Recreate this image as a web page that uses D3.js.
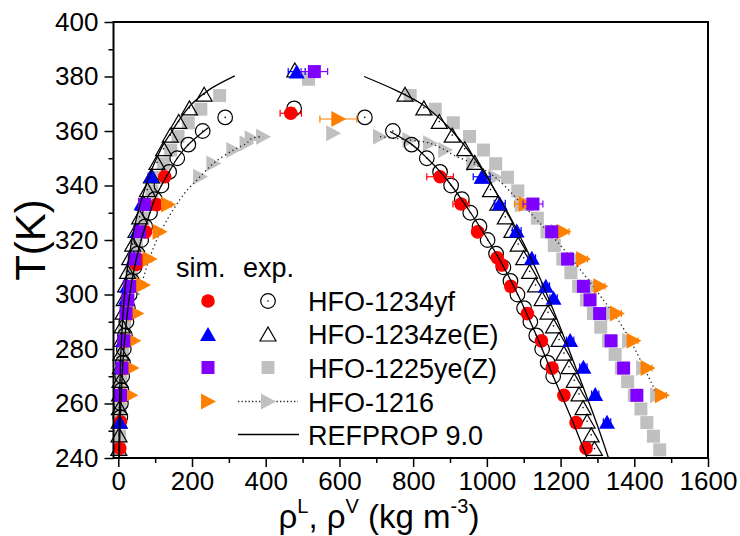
<!DOCTYPE html>
<html><head><meta charset="utf-8">
<script src="https://cdn.jsdelivr.net/npm/d3@7"></script>
<style>
body{margin:0;background:#fff}
svg{display:block}
text{font-family:"Liberation Sans",Arial,Helvetica,sans-serif;fill:#000}
</style>
</head><body>
<svg id="c" width="740" height="536"></svg>
<script>
// ---------------- axis ticks ----------------
const xMajor = [0,200,400,600,800,1000,1200,1400,1600];
const xMinor = [100,300,500,700,900,1100,1300,1500];
const yMajor = [240,260,280,300,320,340,360,380,400];
const yMinor = [250,270,290,310,330,350,370,390];

// ---------------- HFO-1234yf simulation (T [K], rho [kg/m3], error) ----------------
const yfSimT   = [243.6,253.3,263,273,283,293,303,311,313,323,333,343.2, 366.5, 343.2,333.2,323,313.5,310.8,303,293,283,273,263,253,243.6];
const yfSimRho = [4,6,10,14,20,28,38,49,53,74,104,126, 468, 873,930,975,1028,1041,1065,1110,1148,1177,1209,1242,1269];
const yfSimErr = [1,1,2,2,2,3,3,4,4,5,6,8, 29, 36,22,15,10,10,8,8,8,6,6,6,5];

// ---------------- HFO-1234yf experiment ----------------
const yfExpT   = [255,260,265,270,275,280,285,290,295,300,305,310,315,320,325,330,335,340,345,350,355,360,365, 368.3,
                  365,360,355,350,345,340,335,330,325,320,315,310,305,300,295,290,285,280,275,270];
const yfExpRho = [5.5,7,8.5,10.5,12.5,15,18,22,26,31,37,44,52,62,73,86,99,117,138,160,190,229,290, 477,
                  669,745,796,837,873,903,932,955,980,1002,1025,1045,1064,1083,1101,1118,1134,1150,1165,1180];

// ---------------- HFO-1234ze(E) simulation ----------------
const zeSimT   = [253.3,263.5,273.5,283.3,298.8,303.2,313.5,323.5,333.5,343.5, 381.8, 343.2,333.5,323.5,313.5,303.2,298.8,283.3,273.5,263.5,253.3];
const zeSimRho = [4,6,9,13,21,24,42,52,63,89, 484, 986,1035,1081,1122,1160,1181,1226,1262,1294,1326];
const zeSimErr = [1,1,2,2,3,3,4,5,6,8, 23, 23,15,12,10,10,10,10,10,10,10];

// ---------------- HFO-1234ze(E) experiment ----------------
const zeExpT   = [243.5,248.5,253.5,258.5,263.5,268.5,273.5,278.5,283.5,288.5,293.5,298.5,303.5,308.5,313.5,318.5,323.5,328.5,333.5,338.5,343.5,348.5,353.5,358.5,363.5,368.5,373.5, 382.4,
                  373.5,368.5,363.5,358.5,353.5,348.5,343.5,338.5,333.5,328.5,323.5,318.5,313.5,308.5,303.5,298.5,293.5,288.5,283.5,278.5,273.5,268.5,263.5,258.5,253.5,248.5,243.5];
const zeExpRho = [1.5,2,2.5,3,3.5,4.5,5.5,7,8.5,10.5,13,16,20,25,31,39,48,58,69,79,90,105,123,141,164,193,233, 479,
                  778,829,871,906,940,967,990,1010,1030,1050,1068,1085,1100,1116,1132,1150,1166,1181,1196,1209,1223,1237,1250,1261,1272,1283,1292];

// ---------------- HFO-1225ye(Z) simulation ----------------
const yeSimT   = [263,273,283,293,298,303,313,323,333, 381.8, 333.2,323,313,303,298,293,283,273,263];
const yeSimRho = [6,10,15,21,26,31,44,58,71, 532, 1125,1176,1219,1262,1280,1306,1337,1371,1407];
const yeSimErr = [2,2,2,3,3,3,4,5,6, 36, 27,15,12,10,10,10,10,10,10];

// ---------------- HFO-1225ye(Z) experiment ----------------
const yeExpT   = [243,248,253,258,263,268,273,278,283,288,293,298,303,308,313,318,323,328,333,338,343,348,353,358,363,368,373, 379,
                  373,368,363,358,353,348,343,338,333,328,323,318,313,308,303,298,293,288,283,278,273,268,263,258,253,248,243];
const yeExpRho = [2.5,3,4,5,6,7.5,9.5,11.5,14,17,20,24,29,35,41,49,57,67,78,91,106,123,142,162,190,224,275, 516,
                  792,860,909,953,991,1024,1056,1084,1110,1137,1163,1183,1206,1228,1249,1270,1289,1309,1330,1348,1365,1382,1400,1418,1434,1452,1469];

// ---------------- HFO-1216 simulation ----------------
const hfpSimT   = [263,273,283,293,303.5,313,323,333, 364.4, 333.2,323,313,303,293,283,273,263];
const hfpSimRho = [33,36,41,49,67,85,112,135, 597, 1105,1208,1261,1308,1353,1398,1436,1475];
const hfpSimErr = [3,3,4,4,5,6,6,8, 50, 30,15,12,12,12,12,12,12];

// ---------------- HFO-1216 experiment (markers) ----------------
const hfpExpT   = [343.2,348.1,353,355.5,357.3,357.9, 359.2, 357.9,356.7,355.5,353,348,343, 333,323,313,303,293,283,273,263];
const hfpExpRho = [222,258,312,348,362,393, 583, 710,790,846,887,963,1023, 1095,1192,1245,1294,1340,1386,1424,1462];
// HFO-1216 experiment (dotted curves)
const hfpVapLineT   = [300,303,308,313,318,323,328,333,338,343.2,348.1,353,355.5,357.3,357.9];
const hfpVapLineRho = [55,62,72,84,98,115,135,158,185,222,258,312,348,362,393];
const hfpLiqLineT   = [357.9,356.7,355.5,353,351,348,343,336.5,332,327,318,309,300,289.4,279.6,266,263];
const hfpLiqLineRho = [710,790,846,887,912,963,1023,1072,1104,1138,1200,1254,1305,1362,1403,1452,1462];

// ---------------- REFPROP 9.0 ----------------
const rpYfVapT   = [240,250,260,270,280,290,300,310,320,330,335,340,345,350,355,361.2];
const rpYfVapRho = [3,4.5,7,10.5,15,22,31,44,62,86,99,117,138,160,190,244];
const rpYfLiqT   = [240,250,260,270,280,290,300,310,320,330,340,345,350,355,359.8];
const rpYfLiqRho = [1272,1243,1212,1180,1150,1118,1084,1046,1003,956,904,874,838,797,737];
const rpZeVapT   = [240,250,260,270,280,290,300,310,320,330,340,345,350,355,360,365,370,375,380.2];
const rpZeVapRho = [1.5,2.2,3.3,5,7.5,11.5,17,25,37,53,75,88,104,122,146,170,200,245,316];
const rpZeLiqT   = [240,250,260,270,280,290,300,310,320,330,340,350,360,365,370,375,380];
const rpZeLiqRho = [1330,1305,1278,1250,1222,1193,1163,1131,1095,1057,1014,966,906,869,822,752,667];

// ---------------- colours ----------------
const cRed = "#ff0000", cBlue = "#0000ff", cPurple = "#8000ff", cOrange = "#ff8000", cGray = "#c0c0c0";

// ================= drawing =================
const svg = d3.select("#c");
const x = d3.scaleLinear().domain([-13, 1600]).range([113.5, 708]);
const y = d3.scaleLinear().domain([240, 400]).range([458, 22]);

const zip = (T, R, E) => T.map((t, i) => ({T: t, r: R[i], e: E ? E[i] : 0}));

// symbol paths (centred)
const P = {
  triUp: "M0,-7L8,7L-8,7Z",
  triRight: "M8,0L-7,-8L-7,8Z",
  square: "M-6.5,-6.5H6.5V6.5H-6.5Z"
};

const gMarks = svg.append("g");

function errorBars(g, data, color) {
  const eb = g.append("g").attr("stroke", color).attr("stroke-width", 1.2).attr("fill", "none");
  data.forEach(d => {
    const x0 = x(d.r - d.e), x1 = x(d.r + d.e), yy = y(d.T);
    eb.append("line").attr("x1", x0).attr("x2", x1).attr("y1", yy).attr("y2", yy);
    eb.append("line").attr("x1", x0).attr("x2", x0).attr("y1", yy - 3.5).attr("y2", yy + 3.5);
    eb.append("line").attr("x1", x1).attr("x2", x1).attr("y1", yy - 3.5).attr("y2", yy + 3.5);
  });
}

function pathMarks(g, data, path, fill, stroke, sw) {
  g.append("g").selectAll("path").data(data).join("path")
    .attr("d", path)
    .attr("transform", d => `translate(${x(d.r)},${y(d.T)})`)
    .attr("fill", fill).attr("stroke", stroke || "none").attr("stroke-width", sw || 0);
}
function dots(g, data) {
  g.append("g").selectAll("circle").data(data).join("circle")
    .attr("cx", d => x(d.r)).attr("cy", d => y(d.T)).attr("r", 0.8).attr("fill", "#000");
}

// experimental markers
const yeExp = zip(yeExpT, yeExpRho);
pathMarks(gMarks, yeExp, P.square, cGray);
const hfpExp = zip(hfpExpT, hfpExpRho);
pathMarks(gMarks, hfpExp, P.triRight, cGray);

const dotted = d3.line().x(d => x(d.r)).y(d => y(d.T)).curve(d3.curveCatmullRom);
gMarks.append("path").datum(zip(hfpVapLineT, hfpVapLineRho)).attr("d", dotted)
  .attr("fill", "none").attr("stroke", "#222").attr("stroke-width", 1.3).attr("stroke-dasharray", "1.3,3");
gMarks.append("path").datum(zip(hfpLiqLineT, hfpLiqLineRho)).attr("d", dotted)
  .attr("fill", "none").attr("stroke", "#222").attr("stroke-width", 1.3).attr("stroke-dasharray", "1.3,3");

const zeExp = zip(zeExpT, zeExpRho);
pathMarks(gMarks, zeExp, P.triUp, "none", "#000", 1.2);
dots(gMarks, zeExp);
const yfExp = zip(yfExpT, yfExpRho);
gMarks.append("g").selectAll("circle").data(yfExp).join("circle")
  .attr("cx", d => x(d.r)).attr("cy", d => y(d.T)).attr("r", 7.3)
  .attr("fill", "none").attr("stroke", "#000").attr("stroke-width", 1.2);
dots(gMarks, yfExp);

// simulation markers
const yfSim = zip(yfSimT, yfSimRho, yfSimErr);
errorBars(gMarks, yfSim, cRed);
gMarks.append("g").selectAll("circle").data(yfSim).join("circle")
  .attr("cx", d => x(d.r)).attr("cy", d => y(d.T)).attr("r", 6.8).attr("fill", cRed);

const zeSim = zip(zeSimT, zeSimRho, zeSimErr);
errorBars(gMarks, zeSim, cBlue);
pathMarks(gMarks, zeSim, P.triUp, cBlue);

const hfpSim = zip(hfpSimT, hfpSimRho, hfpSimErr);
errorBars(gMarks, hfpSim, cOrange);
pathMarks(gMarks, hfpSim, P.triRight, cOrange);

const yeSim = zip(yeSimT, yeSimRho, yeSimErr);
errorBars(gMarks, yeSim, cPurple);
pathMarks(gMarks, yeSim, P.square, cPurple);

// REFPROP lines
const solid = d3.line().x(d => x(d.r)).y(d => y(d.T)).curve(d3.curveCatmullRom);
[[rpYfVapT, rpYfVapRho], [rpYfLiqT, rpYfLiqRho], [rpZeVapT, rpZeVapRho], [rpZeLiqT, rpZeLiqRho]].forEach(([T, R]) => {
  gMarks.append("path").datum(zip(T, R)).attr("d", solid)
    .attr("fill", "none").attr("stroke", "#000").attr("stroke-width", 1.3);
});

// ---------------- axes ----------------
const fs = 26;
const fmt = d3.format("d");
const xAxisMaj = d3.axisBottom(x).tickValues(xMajor).tickFormat(fmt).tickSize(9).tickSizeOuter(0).tickPadding(5);
const xAxisMin = d3.axisBottom(x).tickValues(xMinor).tickSize(5).tickSizeOuter(0).tickFormat("");
const yAxisMaj = d3.axisLeft(y).tickValues(yMajor).tickFormat(fmt).tickSize(9).tickSizeOuter(0).tickPadding(6);
const yAxisMin = d3.axisLeft(y).tickValues(yMinor).tickSize(5).tickSizeOuter(0).tickFormat("");

function styleAxis(g) {
  g.select(".domain").remove();
  g.selectAll(".tick line").attr("stroke", "#000").attr("stroke-width", 1.5);
  g.selectAll(".tick text").attr("font-size", fs).attr("font-family", "Liberation Sans, Arial, sans-serif").attr("fill", "#000");
}
svg.append("g").attr("transform", "translate(0,458)").call(xAxisMaj).call(styleAxis);
svg.append("g").attr("transform", "translate(0,458)").call(xAxisMin).call(styleAxis);
svg.append("g").attr("transform", "translate(113.5,0)").call(yAxisMaj).call(styleAxis);
svg.append("g").attr("transform", "translate(113.5,0)").call(yAxisMin).call(styleAxis);

// frame
svg.append("rect").attr("x", 113.5).attr("y", 22).attr("width", 594.5).attr("height", 436)
  .attr("fill", "none").attr("stroke", "#000").attr("stroke-width", 2);

// axis titles
svg.append("text").attr("transform", "translate(45,240) rotate(-90)").attr("text-anchor", "middle")
  .attr("font-size", 42).text("T(K)");
const xt = svg.append("text").attr("x", 379).attr("y", 528).attr("text-anchor", "middle").attr("font-size", 33);
xt.append("tspan").text("ρ");
xt.append("tspan").attr("font-size", 20).attr("dy", -15).text("L");
xt.append("tspan").attr("dy", 15).text(", ρ");
xt.append("tspan").attr("font-size", 20).attr("dy", -15).text("V");
xt.append("tspan").attr("dy", 15).text(" (kg m");
xt.append("tspan").attr("font-size", 20).attr("dy", -15).text("-3");
xt.append("tspan").attr("dy", 15).text(")");

// ---------------- legend ----------------
const lg = svg.append("g");
const lfs = 27;
lg.append("text").attr("x", 176).attr("y", 277).attr("font-size", lfs).text("sim.");
lg.append("text").attr("x", 243).attr("y", 277).attr("font-size", lfs).text("exp.");
const rows = [301, 334, 367.5, 401.5, 434.5];
const sx = 208, ex = 268, tx = 308;
const names = ["HFO-1234yf", "HFO-1234ze(E)", "HFO-1225ye(Z)", "HFO-1216", "REFPROP 9.0"];
names.forEach((n, i) => lg.append("text").attr("x", tx).attr("y", rows[i] + 10).attr("font-size", lfs).text(n));
lg.append("circle").attr("cx", sx).attr("cy", rows[0]).attr("r", 6.8).attr("fill", cRed);
lg.append("circle").attr("cx", ex).attr("cy", rows[0]).attr("r", 7.3).attr("fill", "none").attr("stroke", "#000").attr("stroke-width", 1.2);
lg.append("circle").attr("cx", ex).attr("cy", rows[0]).attr("r", 0.8).attr("fill", "#000");
lg.append("path").attr("d", P.triUp).attr("transform", `translate(${sx},${rows[1]})`).attr("fill", cBlue);
lg.append("path").attr("d", P.triUp).attr("transform", `translate(${ex},${rows[1]})`).attr("fill", "none").attr("stroke", "#000").attr("stroke-width", 1.2);
lg.append("path").attr("d", P.square).attr("transform", `translate(${sx},${rows[2]})`).attr("fill", cPurple);
lg.append("path").attr("d", P.square).attr("transform", `translate(${ex},${rows[2]})`).attr("fill", cGray);
lg.append("path").attr("d", P.triRight).attr("transform", `translate(${sx},${rows[3]})`).attr("fill", cOrange);
lg.append("line").attr("x1", 238).attr("x2", 298).attr("y1", rows[3]).attr("y2", rows[3])
  .attr("stroke", "#222").attr("stroke-width", 1.3).attr("stroke-dasharray", "1.3,2.2");
lg.append("path").attr("d", P.triRight).attr("transform", `translate(${ex},${rows[3]})`).attr("fill", cGray);
lg.append("line").attr("x1", 238).attr("x2", 299).attr("y1", rows[4]).attr("y2", rows[4])
  .attr("stroke", "#000").attr("stroke-width", 1.3);
</script>
</body></html>
